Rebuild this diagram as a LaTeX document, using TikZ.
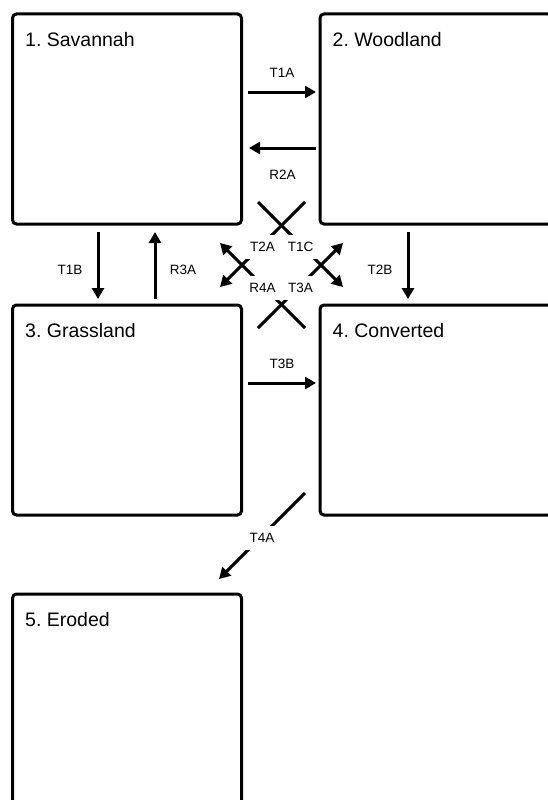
\documentclass[tikz,border=0pt]{standalone}
\usepackage{fontspec}
\setmainfont{Liberation Sans}
\usetikzlibrary{arrows.meta, positioning}

\begin{document}
\frenchspacing
\begin{tikzpicture}[
    x=1pt, y=-1pt,
    state/.style={rectangle, draw, line width=3pt, rounded corners=4pt, minimum width=229pt, minimum height=210pt, inner sep=0pt},
    wide/.style={minimum width=232pt},
    title/.style={anchor=base west, inner sep=0pt, font=\fontsize{19.5}{22}\selectfont},
    arrow/.style={-{Triangle[length=11pt, width=12pt]}, line width=3pt},
    tag/.style={inner sep=0pt, font=\fontsize{13.5}{16}\selectfont},
    cut/.style={tag, fill=white, minimum width=34pt, minimum height=24pt, yshift=-2pt},
]
    \path[use as bounding box, clip] (0,0) rectangle (548,800);

    % states
    \node[state] (sav) at (127,119) {};
    \node[state, wide, right=75.5pt of sav] (wood) {};
    \node[state, below=78pt of sav] (grass) {};
    \node[state, wide, right=75.5pt of grass] (conv) {};
    \node[state, below=76pt of grass] (erod) {};

    \node[title] (sav-t) at ([shift={(14pt,-34pt)}]sav.north west) {1. Savannah};
    \node[title] (wood-t) at ([shift={(14pt,-34pt)}]wood.north west) {2. Woodland};
    \node[title] (grass-t) at ([shift={(14pt,-34pt)}]grass.north west) {3. Grassland};
    \node[title] (conv-t) at ([shift={(14pt,-34pt)}]conv.north west) {4. Converted};
    \node[title] (erod-t) at ([shift={(14pt,-34pt)}]erod.north west) {5. Eroded};

    % free ends of the diagonal transitions
    \coordinate (t1c-a) at (258,202);
    \coordinate (t1c-b) at (343,287);
    \coordinate (t2a-a) at (305,202);
    \coordinate (t2a-b) at (220,287);
    \coordinate (t3a-a) at (258,328);
    \coordinate (t3a-b) at (343,243);
    \coordinate (r4a-a) at (305,328);
    \coordinate (r4a-b) at (220,243);
    \coordinate (t4a-a) at (305,493);
    \coordinate (t4a-b) at (219,579);

    % transitions
    \draw[arrow] ([shift={(5pt,27pt)}]sav.east) -- ([shift={(-2.5pt,27pt)}]wood.west) node[tag, midway, yshift=19pt] {T1A};
    \draw[arrow] ([shift={(-2.5pt,-29pt)}]wood.west) -- ([shift={(6pt,-29pt)}]sav.east) node[tag, midway, yshift=-27pt] {R2A};
    \draw[arrow] ([shift={(-29pt,-6.5pt)}]sav.south) -- ([shift={(-29pt,4.5pt)}]grass.north) node[tag, midway, xshift=-28pt, yshift=-4.5pt] {T1B};
    \draw[arrow] ([shift={(28pt,4.5pt)}]grass.north) -- ([shift={(28pt,-6.5pt)}]sav.south) node[tag, midway, xshift=28pt, yshift=-4.5pt] {R3A};
    \draw[arrow] ([shift={(-28pt,-6.5pt)}]wood.south) -- ([shift={(-28pt,4.5pt)}]conv.north) node[tag, midway, xshift=-28pt, yshift=-4.5pt] {T2B};
    \draw[arrow] ([shift={(5pt,27pt)}]grass.east) -- ([shift={(-2.5pt,27pt)}]conv.west) node[tag, midway, yshift=19pt] {T3B};

    \draw[arrow] (t1c-a) -- (t1c-b) node[cut, midway] {T1C};
    \draw[arrow] (t2a-a) -- (t2a-b) node[cut, midway] {T2A};
    \draw[arrow] (t3a-a) -- (t3a-b) node[cut, midway] {T3A};
    \draw[arrow] (r4a-a) -- (r4a-b) node[cut, midway] {R4A};
    \draw[arrow] (t4a-a) -- (t4a-b) node[cut, midway] {T4A};
\end{tikzpicture}
\end{document}
